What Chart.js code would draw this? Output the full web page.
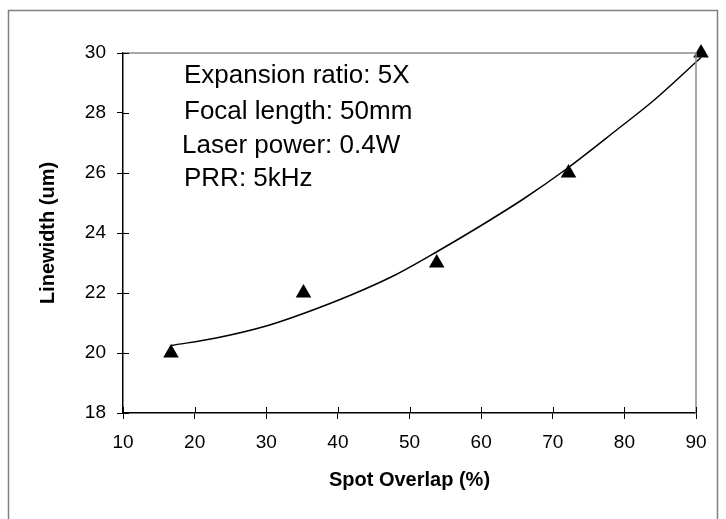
<!DOCTYPE html>
<html>
<head>
<meta charset="utf-8">
<script src="https://cdn.jsdelivr.net/npm/chart.js@4.4.1/dist/chart.umd.min.js"></script>
<style>
  html, body { margin: 0; padding: 0; background: #fff; }
  #wrap { width: 726px; height: 519px; }
</style>
</head>
<body>
<div id="wrap"><canvas id="overlapChart" width="726" height="519"></canvas></div>
<script>
// measured points
const overlap = [16.7, 35.2, 53.8, 72.2, 90.7];
const linewidth = [20, 22, 23, 26, 30];

// trend curve
const trendX = [16.7, 23, 30, 35, 42, 48, 54, 60, 66, 72, 79, 84, 90.7];
const trendY = [20.25, 20.5, 20.9, 21.3, 21.95, 22.6, 23.4, 24.25, 25.15, 26.15, 27.45, 28.4, 29.85];

const noteLines = ['Expansion ratio: 5X', 'Focal length: 50mm', 'Laser power: 0.4W', 'PRR: 5kHz'];

const FONT = "'Liberation Sans', Arial, sans-serif";

// outer frame, gray top/right plot border, inner half of the cross ticks, notes
const decor = {
    id: 'decor',
    beforeDraw(chart) {
        const ctx = chart.ctx;
        ctx.save();
        ctx.fillStyle = '#fff';
        ctx.fillRect(0, 0, chart.width, chart.height);
        ctx.strokeStyle = '#808080';
        ctx.lineWidth = 1.5;
        ctx.beginPath();
        ctx.moveTo(8.5, chart.height + 2);
        ctx.lineTo(8.5, 10.5);
        ctx.lineTo(717.5, 10.5);
        ctx.lineTo(717.5, chart.height + 2);
        ctx.stroke();
        ctx.restore();
    },
    afterDatasetsDraw(chart) {
        const ctx = chart.ctx;
        const a = chart.chartArea;
        const xs = chart.scales.x, ys = chart.scales.y;
        ctx.save();
        ctx.strokeStyle = '#8c8c8c';
        ctx.lineWidth = 1.5;
        ctx.beginPath();
        ctx.moveTo(a.left, a.top);
        ctx.lineTo(a.right, a.top);
        ctx.lineTo(a.right, a.bottom);
        ctx.stroke();

        ctx.strokeStyle = '#000';
        ctx.lineWidth = 1;
        ctx.beginPath();
        xs.ticks.forEach(t => {
            const px = Math.round(xs.getPixelForValue(t.value)) + 0.5;
            ctx.moveTo(px, a.bottom);
            ctx.lineTo(px, a.bottom - 6);
        });
        ys.ticks.forEach(t => {
            const py = Math.round(ys.getPixelForValue(t.value)) + 0.5;
            ctx.moveTo(a.left, py);
            ctx.lineTo(a.left + 6, py);
        });
        ctx.stroke();

        ctx.fillStyle = '#000';
        ctx.font = '26px ' + FONT;
        ctx.textBaseline = 'middle';
        const tops = [76, 112, 146, 179];
        const lefts = [184, 184, 182, 184];
        noteLines.forEach((s, i) => ctx.fillText(s, lefts[i], tops[i]));
        ctx.restore();
    }
};

const ctx = document.getElementById('overlapChart').getContext('2d');
new Chart(ctx, {
    type: 'scatter',
    data: {
        datasets: [{
            label: 'Trend',
            data: trendX.map((x, i) => ({ x: x, y: trendY[i] })),
            showLine: true,
            borderColor: '#000',
            borderWidth: 1.5,
            pointRadius: 0,
            tension: 0.4,
            cubicInterpolationMode: 'monotone',
            clip: false
        }, {
            label: 'Linewidth',
            data: overlap.map((x, i) => ({ x: x, y: linewidth[i] })),
            pointStyle: 'triangle',
            pointRadius: 9,
            pointBackgroundColor: '#000',
            pointBorderColor: '#000',
            pointBorderWidth: 0,
            clip: false
        }]
    },
    options: {
        responsive: false,
        animation: false,
        layout: { padding: { left: 10, right: 30, top: 53, bottom: 10 } },
        plugins: {
            legend: { display: false },
            tooltip: { enabled: false }
        },
        scales: {
            x: {
                type: 'linear',
                min: 10,
                max: 90,
                afterFit: s => { s.height = 96; },
                ticks: {
                    stepSize: 10,
                    color: '#000',
                    padding: 12,
                    maxRotation: 0,
                    font: { family: FONT, size: 19 }
                },
                grid: { drawOnChartArea: false, tickLength: 6, color: '#000' },
                border: { color: '#000', width: 1.5 },
                title: {
                    display: true,
                    text: 'Spot Overlap (%)',
                    color: '#000',
                    font: { family: FONT, size: 20, weight: 'bold' },
                    padding: { top: 0, bottom: 17 }
                }
            },
            y: {
                min: 18,
                max: 30,
                afterFit: s => { s.width = 113; },
                ticks: {
                    stepSize: 2,
                    color: '#000',
                    padding: 11,
                    font: { family: FONT, size: 19 }
                },
                grid: { drawOnChartArea: false, tickLength: 6, color: '#000' },
                border: { color: '#000', width: 1.5 },
                title: {
                    display: true,
                    text: 'Linewidth (um)',
                    color: '#000',
                    font: { family: FONT, size: 20, weight: 'bold' },
                    padding: { top: 26, bottom: 0 }
                }
            }
        }
    },
    plugins: [decor]
});
</script>
</body>
</html>
